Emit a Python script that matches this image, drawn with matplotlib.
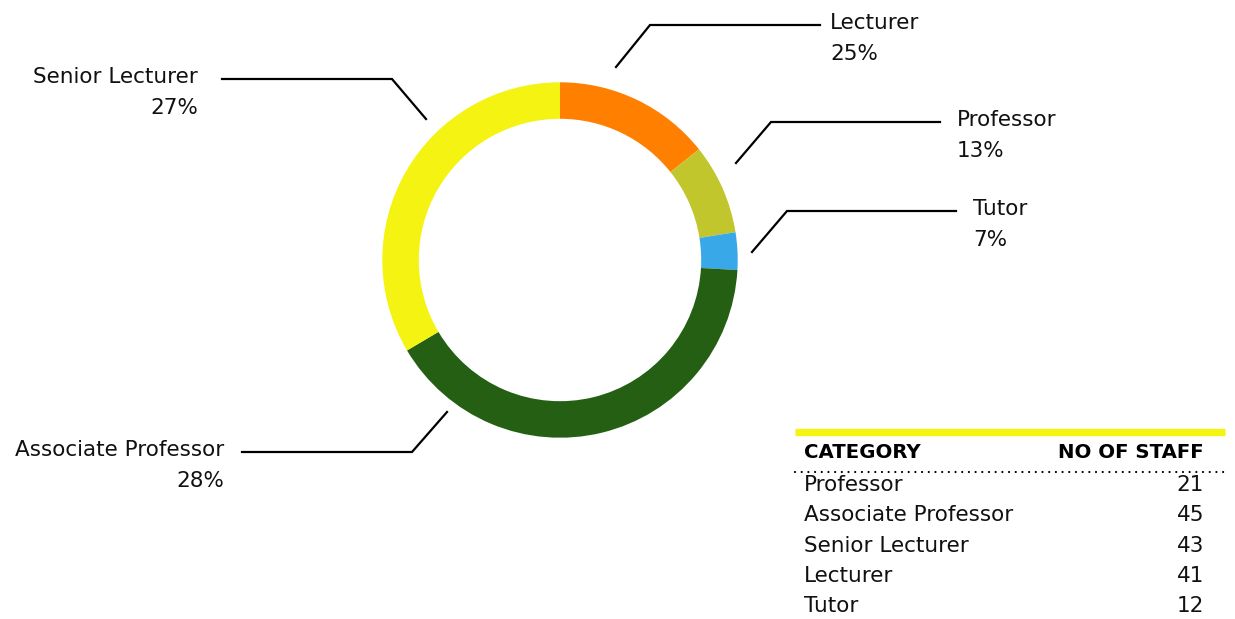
import matplotlib
matplotlib.use('Agg')
import matplotlib.pyplot as plt

# category order around the ring, clockwise from 12 o'clock
categories = ['Lecturer', 'Professor', 'Tutor', 'Associate Professor', 'Senior Lecturer']
label_pct = [25, 13, 7, 28, 27]
# ring shares as drawn in the picture (they don't follow the labels)
ring_share = [14.3, 8.2, 3.4, 40.6, 33.5]
colors = ['#FF7F00', '#C1C62C', '#38A8E8', '#245F14', '#F5F311']

# table
table_cats = ['Professor', 'Associate Professor', 'Senior Lecturer', 'Lecturer', 'Tutor']
table_staff = [21, 45, 43, 41, 12]

W, H = 1235, 619
plt.rcParams['font.family'] = ['DejaVu Sans']
FS = 15.5

fig = plt.figure(figsize=(W / 100, H / 100), dpi=100)
ax = fig.add_axes([0, 0, 1, 1])


def py(y):
    # pixel row -> data y
    return H - y


cx, cy, r_out = 560, 260, 177.7
ax.pie(ring_share, colors=colors, startangle=90, counterclock=False,
       center=(cx, py(cy)), radius=r_out, frame=True,
       wedgeprops=dict(width=36.5, linewidth=0))
ax.set_xlim(0, W)
ax.set_ylim(0, H)
ax.set_aspect('equal')
ax.axis('off')

# leader lines: start, elbow, end, text anchor, alignment
leaders = {
    'Lecturer': [(616, 67), (650, 25), (820, 25), (830, 'left')],
    'Professor': [(736, 163), (771, 122), (940, 122), (957, 'left')],
    'Tutor': [(752, 252), (787, 211), (956, 211), (973, 'left')],
    'Associate Professor': [(447, 412), (412, 452), (242, 452), (224, 'right')],
    'Senior Lecturer': [(426, 119), (392, 79), (222, 79), (198, 'right')],
}

for cat, pct in zip(categories, label_pct):
    p0, p1, p2, (tx, ha) = leaders[cat]
    ax.plot([p0[0], p1[0], p2[0]], [py(p0[1]), py(p1[1]), py(p2[1])],
            color='black', lw=1.6, solid_joinstyle='miter')
    ax.text(tx, py(p2[1] - 2), cat, ha=ha, va='center', fontsize=FS, color='#111111')
    ax.text(tx, py(p2[1] + 29), f'{pct}%', ha=ha, va='center', fontsize=FS, color='#111111')

# table
tx0, tx1 = 795, 1225
ax.plot([tx0, tx1], [py(432), py(432)], color='#F5F311', lw=5.3, solid_capstyle='butt')
ax.text(804, py(453), 'CATEGORY', ha='left', va='center', fontsize=14.2, fontweight='bold')
ax.text(1204, py(453), 'NO OF STAFF', ha='right', va='center', fontsize=14.2, fontweight='bold')
ax.plot([tx0, tx1], [py(471.5), py(471.5)], color='black', lw=1.6,
        linestyle=(0, (0.01, 3.0)), dash_capstyle='round')
for i, (c, n) in enumerate(zip(table_cats, table_staff)):
    y = 485 + i * 30.3
    ax.text(804, py(y), c, ha='left', va='center', fontsize=FS, color='#111111')
    ax.text(1204, py(y), str(n), ha='right', va='center', fontsize=FS, color='#111111')

fig.savefig('out.png', dpi=100, facecolor='white')
